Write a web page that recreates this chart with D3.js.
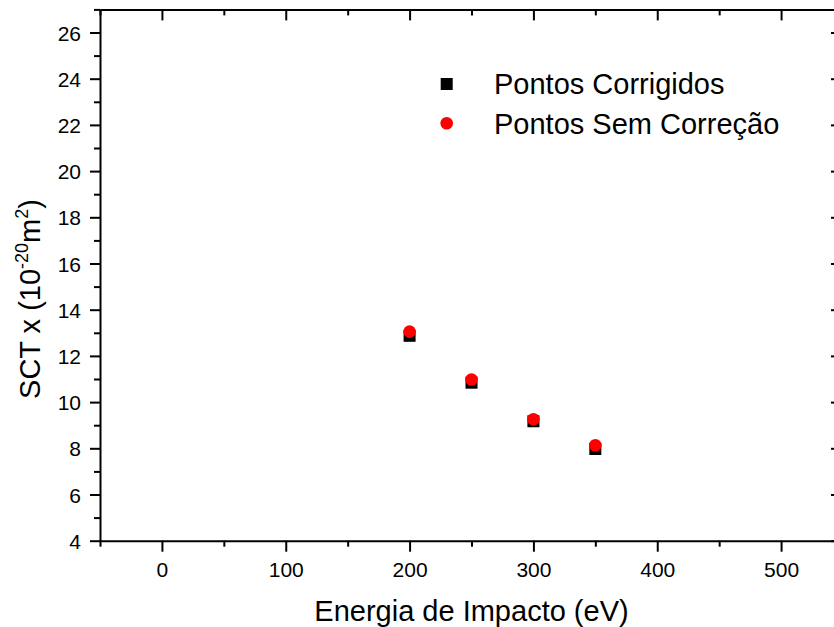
<!DOCTYPE html>
<html><head><meta charset="utf-8">
<script src="https://cdn.jsdelivr.net/npm/d3@7"></script>
<style>html,body{margin:0;padding:0;background:#fff;} svg{display:block;font-family:"Liberation Sans",Arial,sans-serif;}</style>
</head><body>
<svg id="c" width="834" height="627"></svg>
<script>
const energies = [200, 250, 300, 350];
const corrected = [12.87, 10.84, 9.17, 7.97];
const uncorrected = [13.05, 10.98, 9.26, 8.13];
const xTicks = [0, 100, 200, 300, 400, 500];
const xMinor = [-50, 50, 150, 250, 350, 450, 550];
const yTicks = [4, 6, 8, 10, 12, 14, 16, 18, 20, 22, 24, 26];
const yMinor = [5, 7, 9, 11, 13, 15, 17, 19, 21, 23, 25, 27];
const seriesNames = ["Pontos Corrigidos", "Pontos Sem Correção"];

const svg = d3.select("#c");
const L = 100, R = 843, T = 9.4, B = 540.7;
const x = d3.scaleLinear().domain([-50, 550]).range([L, R]);
const y = d3.scaleLinear().domain([4, 27]).range([B, T]);

function styleAxis(g){
  g.select(".domain").attr("stroke","#000").attr("stroke-width",2);
  g.selectAll(".tick line").attr("stroke","#000").attr("stroke-width",2);
  g.selectAll(".tick text").attr("fill","#000").attr("font-size",21);
}
function minorStyle(g){
  g.select(".domain").remove();
  g.selectAll(".tick line").attr("stroke","#000").attr("stroke-width",2);
}
// bottom
const gb = svg.append("g").attr("transform",`translate(0,${B})`)
  .call(d3.axisBottom(x).tickValues(xTicks).tickSize(11).tickSizeOuter(0).tickFormat(d3.format("d")));
styleAxis(gb);
gb.selectAll(".tick text").attr("y",36.5).attr("dy",0);
svg.append("g").attr("transform",`translate(0,${B})`)
  .call(d3.axisBottom(x).tickValues(xMinor).tickSize(6).tickSizeOuter(0).tickFormat(""))
  .call(minorStyle);
// top
const gt = svg.append("g").attr("transform",`translate(0,${T})`)
  .call(d3.axisTop(x).tickValues(xTicks).tickSize(-11).tickSizeOuter(0).tickFormat(""));
styleAxis(gt);
svg.append("g").attr("transform",`translate(0,${T})`)
  .call(d3.axisTop(x).tickValues(xMinor).tickSize(-6).tickSizeOuter(0).tickFormat(""))
  .call(minorStyle);
// left
const gl = svg.append("g").attr("transform",`translate(${L},0)`)
  .call(d3.axisLeft(y).tickValues(yTicks).tickSize(10).tickPadding(9).tickSizeOuter(0).tickFormat(d3.format("d")));
styleAxis(gl);
gl.selectAll(".tick text").attr("dy","0.36em");
svg.append("g").attr("transform",`translate(${L},0)`)
  .call(d3.axisLeft(y).tickValues(yMinor).tickSize(6).tickSizeOuter(0).tickFormat(""))
  .call(minorStyle);
// right
const gr = svg.append("g").attr("transform",`translate(${R},0)`)
  .call(d3.axisRight(y).tickValues(yTicks).tickSize(-12).tickSizeOuter(0).tickFormat(""));
styleAxis(gr);
svg.append("g").attr("transform",`translate(${R},0)`)
  .call(d3.axisRight(y).tickValues(yMinor).tickSize(-6).tickSizeOuter(0).tickFormat(""))
  .call(minorStyle);

// data
const sq = 12;
svg.append("g").selectAll("rect").data(energies).join("rect")
  .attr("x",(d,i)=>x(d)-sq/2).attr("y",(d,i)=>y(corrected[i])-sq/2)
  .attr("width",sq).attr("height",sq).attr("fill","#000");
svg.append("g").selectAll("circle").data(energies).join("circle")
  .attr("cx",(d,i)=>x(d)).attr("cy",(d,i)=>y(uncorrected[i])).attr("r",6.3).attr("fill","#ff0000");

// legend
svg.append("rect").attr("x",446.7-sq/2).attr("y",84-sq/2).attr("width",sq).attr("height",sq).attr("fill","#000");
svg.append("circle").attr("cx",446.7).attr("cy",123.3).attr("r",6.3).attr("fill","#ff0000");
svg.append("text").attr("x",494).attr("y",93.5).attr("font-size",29).attr("fill","#000").text(seriesNames[0]);
svg.append("text").attr("x",494).attr("y",133.5).attr("font-size",29).attr("fill","#000").text(seriesNames[1]);

// axis titles
svg.append("text").attr("x",(L+R)/2).attr("y",620.5).attr("text-anchor","middle")
  .attr("font-size",29).attr("fill","#000").text("Energia de Impacto (eV)");
const yt = svg.append("text").attr("transform","translate(39.5,299) rotate(-90)")
  .attr("text-anchor","middle").attr("font-size",29).attr("fill","#000");
yt.append("tspan").text("SCT x (10");
yt.append("tspan").attr("font-size",18).attr("dy",-12).text("-20");
yt.append("tspan").attr("dy",12).text("m");
yt.append("tspan").attr("font-size",18).attr("dy",-12).text("2");
yt.append("tspan").attr("dy",12).text(")");
</script>
</body></html>
